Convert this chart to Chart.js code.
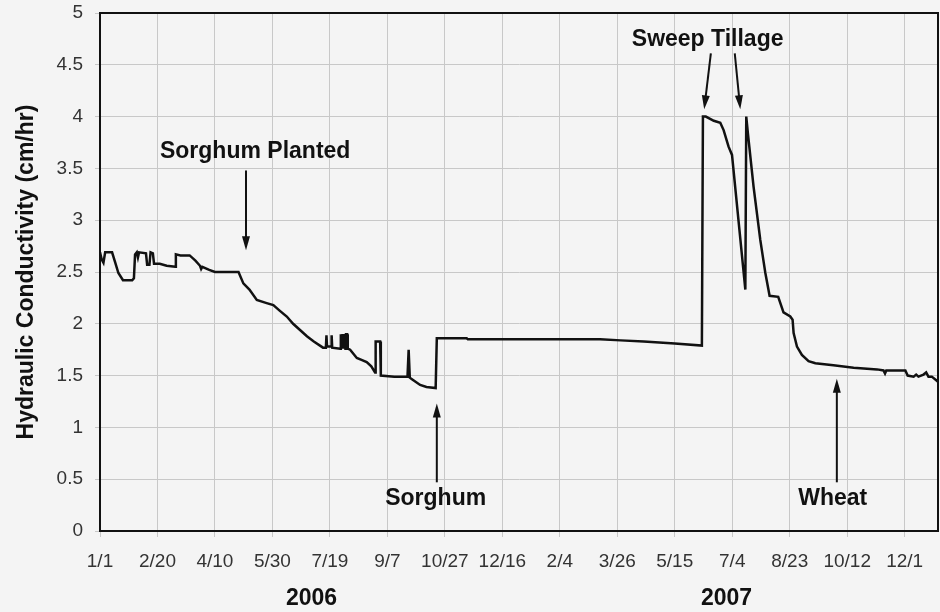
<!DOCTYPE html>
<html>
<head>
<meta charset="utf-8">
<script src="https://cdn.jsdelivr.net/npm/chart.js@4.4.1/dist/chart.umd.min.js"></script>
<style>
  html, body { margin: 0; padding: 0; background: #f4f4f4; }
  #wrap { width: 940px; height: 612px; }
</style>
</head>
<body>
<div id="wrap"><canvas id="kChart" width="940" height="612"></canvas></div>
<script>
// days since 1/1/2006 and measured hydraulic conductivity (cm/hr)
const dayNumbers = [
    0, 1.5, 3, 4.5, 10.5, 13, 16, 20, 28, 29.5, 30.5, 32, 33, 34, 40, 41, 43, 44, 46, 47,
    52, 58, 65.5, 66, 70, 78, 83, 87, 88, 89, 95, 100, 120.5, 124.7, 130, 136.4, 145, 150.8, 156, 162.5,
    168, 174, 180, 186, 194, 196.5, 197, 197.5, 201, 201.5, 202, 209, 209.5, 210.5, 211, 212, 212.5, 213.5, 214, 215,
    215.5, 217.6, 223.4, 228, 232, 236, 239.3, 239.8, 243.7, 244.3, 256, 267.5, 268.5, 269.5, 272, 278.5, 284, 292, 293, 319,
    320, 380, 435, 453, 473, 500, 523.6, 524.5, 527, 534, 539.6, 542.5, 546.8, 549.8, 561.4, 562.2, 563.6, 568.6, 574.4, 578.8,
    582.5, 590, 594.6, 600.5, 602.5, 603.4, 606.3, 610.6, 616.4, 622.3, 638, 655.6, 676, 681.6, 682.9, 684, 700.6, 702.6, 707.8, 710,
    712, 716.4, 718.7, 720.7, 723.6, 728, 729
];
const conductivity = [
    2.69, 2.62, 2.59, 2.69, 2.69, 2.60, 2.49, 2.42, 2.42, 2.44, 2.67, 2.69, 2.64, 2.69, 2.68, 2.57, 2.57, 2.69, 2.68, 2.58,
    2.58, 2.56, 2.55, 2.67, 2.66, 2.66, 2.61, 2.56, 2.53, 2.55, 2.52, 2.50, 2.50, 2.39, 2.33, 2.23, 2.20, 2.18, 2.13, 2.07,
    2.00, 1.94, 1.88, 1.83, 1.77, 1.77, 1.89, 1.78, 1.78, 1.89, 1.77, 1.76, 1.90, 1.76, 1.90, 1.76, 1.90, 1.76, 1.90, 1.90,
    1.76, 1.75, 1.67, 1.65, 1.63, 1.59, 1.53, 1.83, 1.83, 1.50, 1.49, 1.49, 1.75, 1.48, 1.46, 1.41, 1.39, 1.38, 1.86, 1.86,
    1.85, 1.85, 1.85, 1.84, 1.83, 1.81, 1.79, 4.00, 4.00, 3.96, 3.94, 3.87, 3.71, 3.63, 2.33, 4.00, 3.84, 3.32, 2.81, 2.49,
    2.27, 2.26, 2.11, 2.07, 2.04, 1.91, 1.78, 1.70, 1.64, 1.62, 1.60, 1.575, 1.56, 1.55, 1.52, 1.55, 1.55, 1.50, 1.49, 1.51,
    1.49, 1.51, 1.53, 1.49, 1.49, 1.45, 1.44
];

const tickDays = [0, 50, 100, 150, 200, 250, 300, 350, 400, 450, 500, 550, 600, 650, 700];
const tickLabels = ['1/1', '2/20', '4/10', '5/30', '7/19', '9/7', '10/27', '12/16',
                    '2/4', '3/26', '5/15', '7/4', '8/23', '10/12', '12/1'];
const yearLabels = ['2006', '2007'];
const yearCenters = [184, 545];

// annotations: text anchor and arrows, all in data units (day, cm/hr)
const fieldNotes = [
    { text: 'Sorghum Planted', day: 135, value: 3.60, arrows: [[127, 3.48, 127, 2.71]] },
    { text: 'Sorghum', day: 292, value: 0.25, arrows: [[293, 0.47, 293, 1.23]] },
    { text: 'Sweep Tillage', day: 528.6, value: 4.68, arrows: [[531.4, 4.61, 525.6, 4.07], [552.2, 4.61, 557, 4.07]] },
    { text: 'Wheat', day: 637.4, value: 0.25, arrows: [[641, 0.47, 641, 1.47]] }
];

const FONT = '"Liberation Sans", Arial, Helvetica, sans-serif';

function drawArrow(ctx, x0, y0, x1, y1) {
    const angle = Math.atan2(y1 - y0, x1 - x0);
    const headLen = 14;
    const halfW = 4;
    ctx.beginPath();
    ctx.moveTo(x0, y0);
    ctx.lineTo(x1 - Math.cos(angle) * headLen * 0.8, y1 - Math.sin(angle) * headLen * 0.8);
    ctx.stroke();
    ctx.beginPath();
    ctx.moveTo(x1, y1);
    ctx.lineTo(x1 - Math.cos(angle) * headLen - Math.sin(angle) * halfW,
               y1 - Math.sin(angle) * headLen + Math.cos(angle) * halfW);
    ctx.lineTo(x1 - Math.cos(angle) * headLen + Math.sin(angle) * halfW,
               y1 - Math.sin(angle) * headLen - Math.cos(angle) * halfW);
    ctx.closePath();
    ctx.fill();
}

const notesPlugin = {
    id: 'fieldNotes',
    beforeDraw(chart) {
        const ctx = chart.ctx;
        ctx.save();
        ctx.fillStyle = '#f4f4f4';
        ctx.fillRect(0, 0, chart.width, chart.height);
        ctx.restore();
    },
    afterDraw(chart) {
        const { ctx, chartArea } = chart;
        const x = chart.scales.x;
        const y = chart.scales.y;
        ctx.save();

        // top and right frame
        ctx.strokeStyle = '#111';
        ctx.lineWidth = 2;
        ctx.beginPath();
        ctx.moveTo(chartArea.left, chartArea.top);
        ctx.lineTo(chartArea.right, chartArea.top);
        ctx.lineTo(chartArea.right, chartArea.bottom);
        ctx.stroke();

        ctx.fillStyle = '#111';
        ctx.strokeStyle = '#111';
        ctx.lineWidth = 2;
        ctx.font = 'bold 23px ' + FONT;
        ctx.textAlign = 'center';
        ctx.textBaseline = 'alphabetic';

        fieldNotes.forEach(note => {
            ctx.fillText(note.text, x.getPixelForValue(note.day), y.getPixelForValue(note.value));
            note.arrows.forEach(a => {
                drawArrow(ctx, x.getPixelForValue(a[0]), y.getPixelForValue(a[1]),
                               x.getPixelForValue(a[2]), y.getPixelForValue(a[3]));
            });
        });

        yearLabels.forEach((label, i) => {
            ctx.fillText(label, x.getPixelForValue(yearCenters[i]), chartArea.bottom + 74);
        });
        ctx.restore();
    }
};

const ctx = document.getElementById('kChart').getContext('2d');

new Chart(ctx, {
    type: 'line',
    data: {
        datasets: [{
            label: 'Hydraulic Conductivity',
            data: dayNumbers.map((d, i) => ({ x: d, y: conductivity[i] })),
            borderColor: '#111',
            borderWidth: 2.5,
            pointRadius: 0,
            tension: 0,
            fill: false
        }]
    },
    options: {
        responsive: false,
        animation: false,
        layout: { padding: { top: 13, right: 2, left: 0, bottom: 0 } },
        plugins: {
            legend: { display: false },
            tooltip: { enabled: false }
        },
        scales: {
            x: {
                type: 'linear',
                min: 0,
                max: 729,
                afterBuildTicks: scale => {
                    scale.ticks = tickDays.map(v => ({ value: v }));
                },
                afterFit: scale => {
                    scale.height = 81;
                    scale.paddingLeft = 0;
                    scale.paddingRight = 0;
                },
                ticks: {
                    autoSkip: false,
                    maxRotation: 0,
                    padding: 13,
                    color: '#333',
                    font: { family: FONT, size: 19 },
                    callback: value => tickLabels[tickDays.indexOf(value)]
                },
                grid: { color: '#c8c8c8', lineWidth: 1, tickLength: 6 },
                border: { display: true, color: '#111', width: 2 }
            },
            y: {
                min: 0,
                max: 5,
                afterFit: scale => {
                    scale.width = 100;
                    scale.paddingTop = 0;
                    scale.paddingBottom = 0;
                },
                ticks: {
                    stepSize: 0.5,
                    padding: 12,
                    color: '#333',
                    font: { family: FONT, size: 19 },
                    callback: value => String(value)
                },
                grid: { color: '#c8c8c8', lineWidth: 1, tickLength: 5 },
                border: { display: true, color: '#111', width: 2 },
                title: {
                    display: true,
                    text: 'Hydraulic Conductivity (cm/hr)',
                    color: '#111',
                    font: { family: FONT, size: 23, weight: 'bold' },
                    padding: { top: 13, bottom: 0 }
                }
            }
        }
    },
    plugins: [notesPlugin]
});
</script>
</body>
</html>
